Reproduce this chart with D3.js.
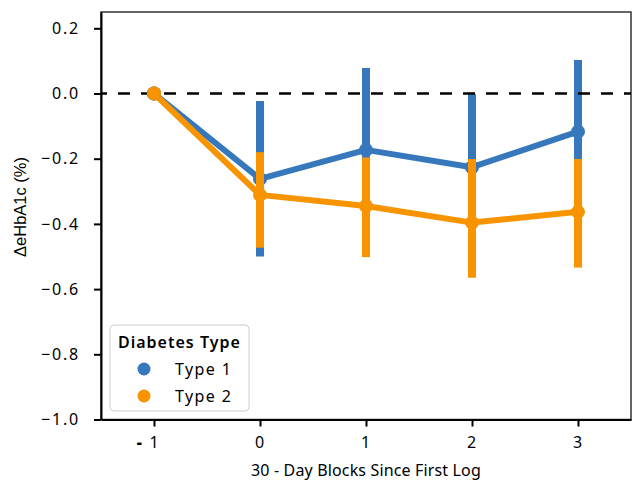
<!DOCTYPE html>
<html><head><meta charset="utf-8">
<script src="https://cdn.jsdelivr.net/npm/d3@7"></script>
<style>body{margin:0;background:#fff}svg{display:block}</style>
</head><body>
<svg id="c" width="633" height="488"></svg>
<script>
const blocks = [-1, 0, 1, 2, 3];
const type1Mean = [0, -0.262, -0.173, -0.226, -0.117];
const type1Low  = [0, -0.500, -0.420, -0.450, -0.340];
const type1High = [0, -0.023, 0.078, -0.002, 0.103];
const type2Mean = [0, -0.311, -0.345, -0.396, -0.363];
const type2Low  = [0, -0.473, -0.502, -0.565, -0.534];
const type2High = [0, -0.180, -0.196, -0.201, -0.201];
const yTicks = [0.2, 0.0, -0.2, -0.4, -0.6, -0.8, -1.0];
const xTickLabels = ["- 1", "0", "1", "2", "3"];
const seriesNames = ["Type 1", "Type 2"];
const colors = ["#3778bc", "#f79400"];

const svg = d3.select("#c");
const L = 101, R = 631, T = 12, B = 419.5;
const x = d3.scaleLinear().domain([-1.5, 3.5]).range([L, R]);
const y = d3.scaleLinear().domain([-1.0, 0.25]).range([B, T]);
const font = "'Noto Sans', 'Open Sans', sans-serif";

// frame
svg.append("rect").attr("x", L).attr("y", T).attr("width", R - L).attr("height", B - T)
  .attr("fill", "none").attr("stroke", "#333").attr("stroke-width", 1.5);

const series = [
  {name: seriesNames[0], mean: type1Mean, lo: type1Low, hi: type1High, color: colors[0]},
  {name: seriesNames[1], mean: type2Mean, lo: type2Low, hi: type2High, color: colors[1]}
];

const g = svg.append("g");
series.forEach(s => {
  const sg = g.append("g");
  sg.selectAll("line.err").data(blocks.map((b, i) => ({b, lo: s.lo[i], hi: s.hi[i]})).filter(d => d.hi !== d.lo))
    .enter().append("line")
    .attr("x1", d => x(d.b)).attr("x2", d => x(d.b))
    .attr("y1", d => y(d.lo)).attr("y2", d => y(d.hi))
    .attr("stroke", s.color).attr("stroke-width", 8);
  const line = d3.line().x((d, i) => x(blocks[i])).y(d => y(d));
  sg.append("path").attr("d", line(s.mean)).attr("fill", "none")
    .attr("stroke", s.color).attr("stroke-width", 6).attr("stroke-linejoin", "round");
  sg.selectAll("circle").data(s.mean).enter().append("circle")
    .attr("cx", (d, i) => x(blocks[i])).attr("cy", d => y(d)).attr("r", 7)
    .attr("fill", s.color);
});

// dashed zero line
svg.append("line").attr("x1", L).attr("x2", R).attr("y1", y(0)).attr("y2", y(0))
  .attr("stroke", "#000").attr("stroke-width", 2.6)
  .attr("stroke-dasharray", "12,11").attr("stroke-dashoffset", 6);
series.forEach(s => {
  svg.append("circle").attr("cx", x(blocks[0])).attr("cy", y(s.mean[0])).attr("r", 7).attr("fill", s.color);
});

// axes
const yAxis = svg.append("g").attr("transform", `translate(${L},0)`)
  .call(d3.axisLeft(y).tickValues(yTicks).tickFormat(d3.format(".1f")).tickSizeInner(7).tickSizeOuter(0).tickPadding(14));
const xAxis = svg.append("g").attr("transform", `translate(0,${B})`)
  .call(d3.axisBottom(x).tickValues(blocks).tickFormat((d, i) => xTickLabels[i]).tickSizeInner(7).tickSizeOuter(0).tickPadding(10));
[yAxis, xAxis].forEach(a => {
  a.select(".domain").attr("stroke", "#000").attr("stroke-width", 2);
  a.selectAll(".tick line").attr("stroke", "#000").attr("stroke-width", 2);
  a.selectAll("text").attr("font-family", font).attr("font-size", 16).attr("fill", "#000")
    .attr("letter-spacing", 1.8);
});
// style the minus label like the reference (heavy dash, then 1 centred on tick)
xAxis.selectAll(".tick text").filter((d, i) => i === 0).each(function() {
  const t = d3.select(this);
  const txt = t.text();
  t.text(null).attr("text-anchor", "end").attr("x", 6);
  t.append("tspan").attr("font-weight", 900).text(txt.slice(0, 1));
  t.append("tspan").text(txt.slice(1));
});

// axis titles
svg.append("text").attr("x", (L + R) / 2).attr("y", 476).attr("text-anchor", "middle")
  .attr("font-family", font).attr("font-size", 16).attr("letter-spacing", 0.15).text("30 - Day Blocks Since First Log");
svg.append("text").attr("transform", "translate(26,207) rotate(-90)").attr("text-anchor", "middle")
  .attr("font-family", "'Liberation Sans', Arial, sans-serif").attr("font-size", 16.5).text("ΔeHbA1c (%)");

// legend
const lg = svg.append("g");
lg.append("rect").attr("x", 110).attr("y", 325).attr("width", 139).attr("height", 86).attr("rx", 4)
  .attr("fill", "#fff").attr("fill-opacity", 0.8).attr("stroke", "#ccc").attr("stroke-width", 1);
lg.append("text").attr("x", 118).attr("y", 348)
  .attr("font-family", font).attr("font-size", 16).attr("font-weight", 600).attr("letter-spacing", 1.0).text("Diabetes Type");
series.forEach((s, i) => {
  lg.append("circle").attr("cx", 144).attr("cy", 369 + i * 27).attr("r", 6.5).attr("fill", s.color);
  lg.append("text").attr("x", 175).attr("y", 375 + i * 27).attr("font-family", font).attr("font-size", 16)
    .attr("letter-spacing", 1.4).text(s.name);
});
</script>
</body></html>
